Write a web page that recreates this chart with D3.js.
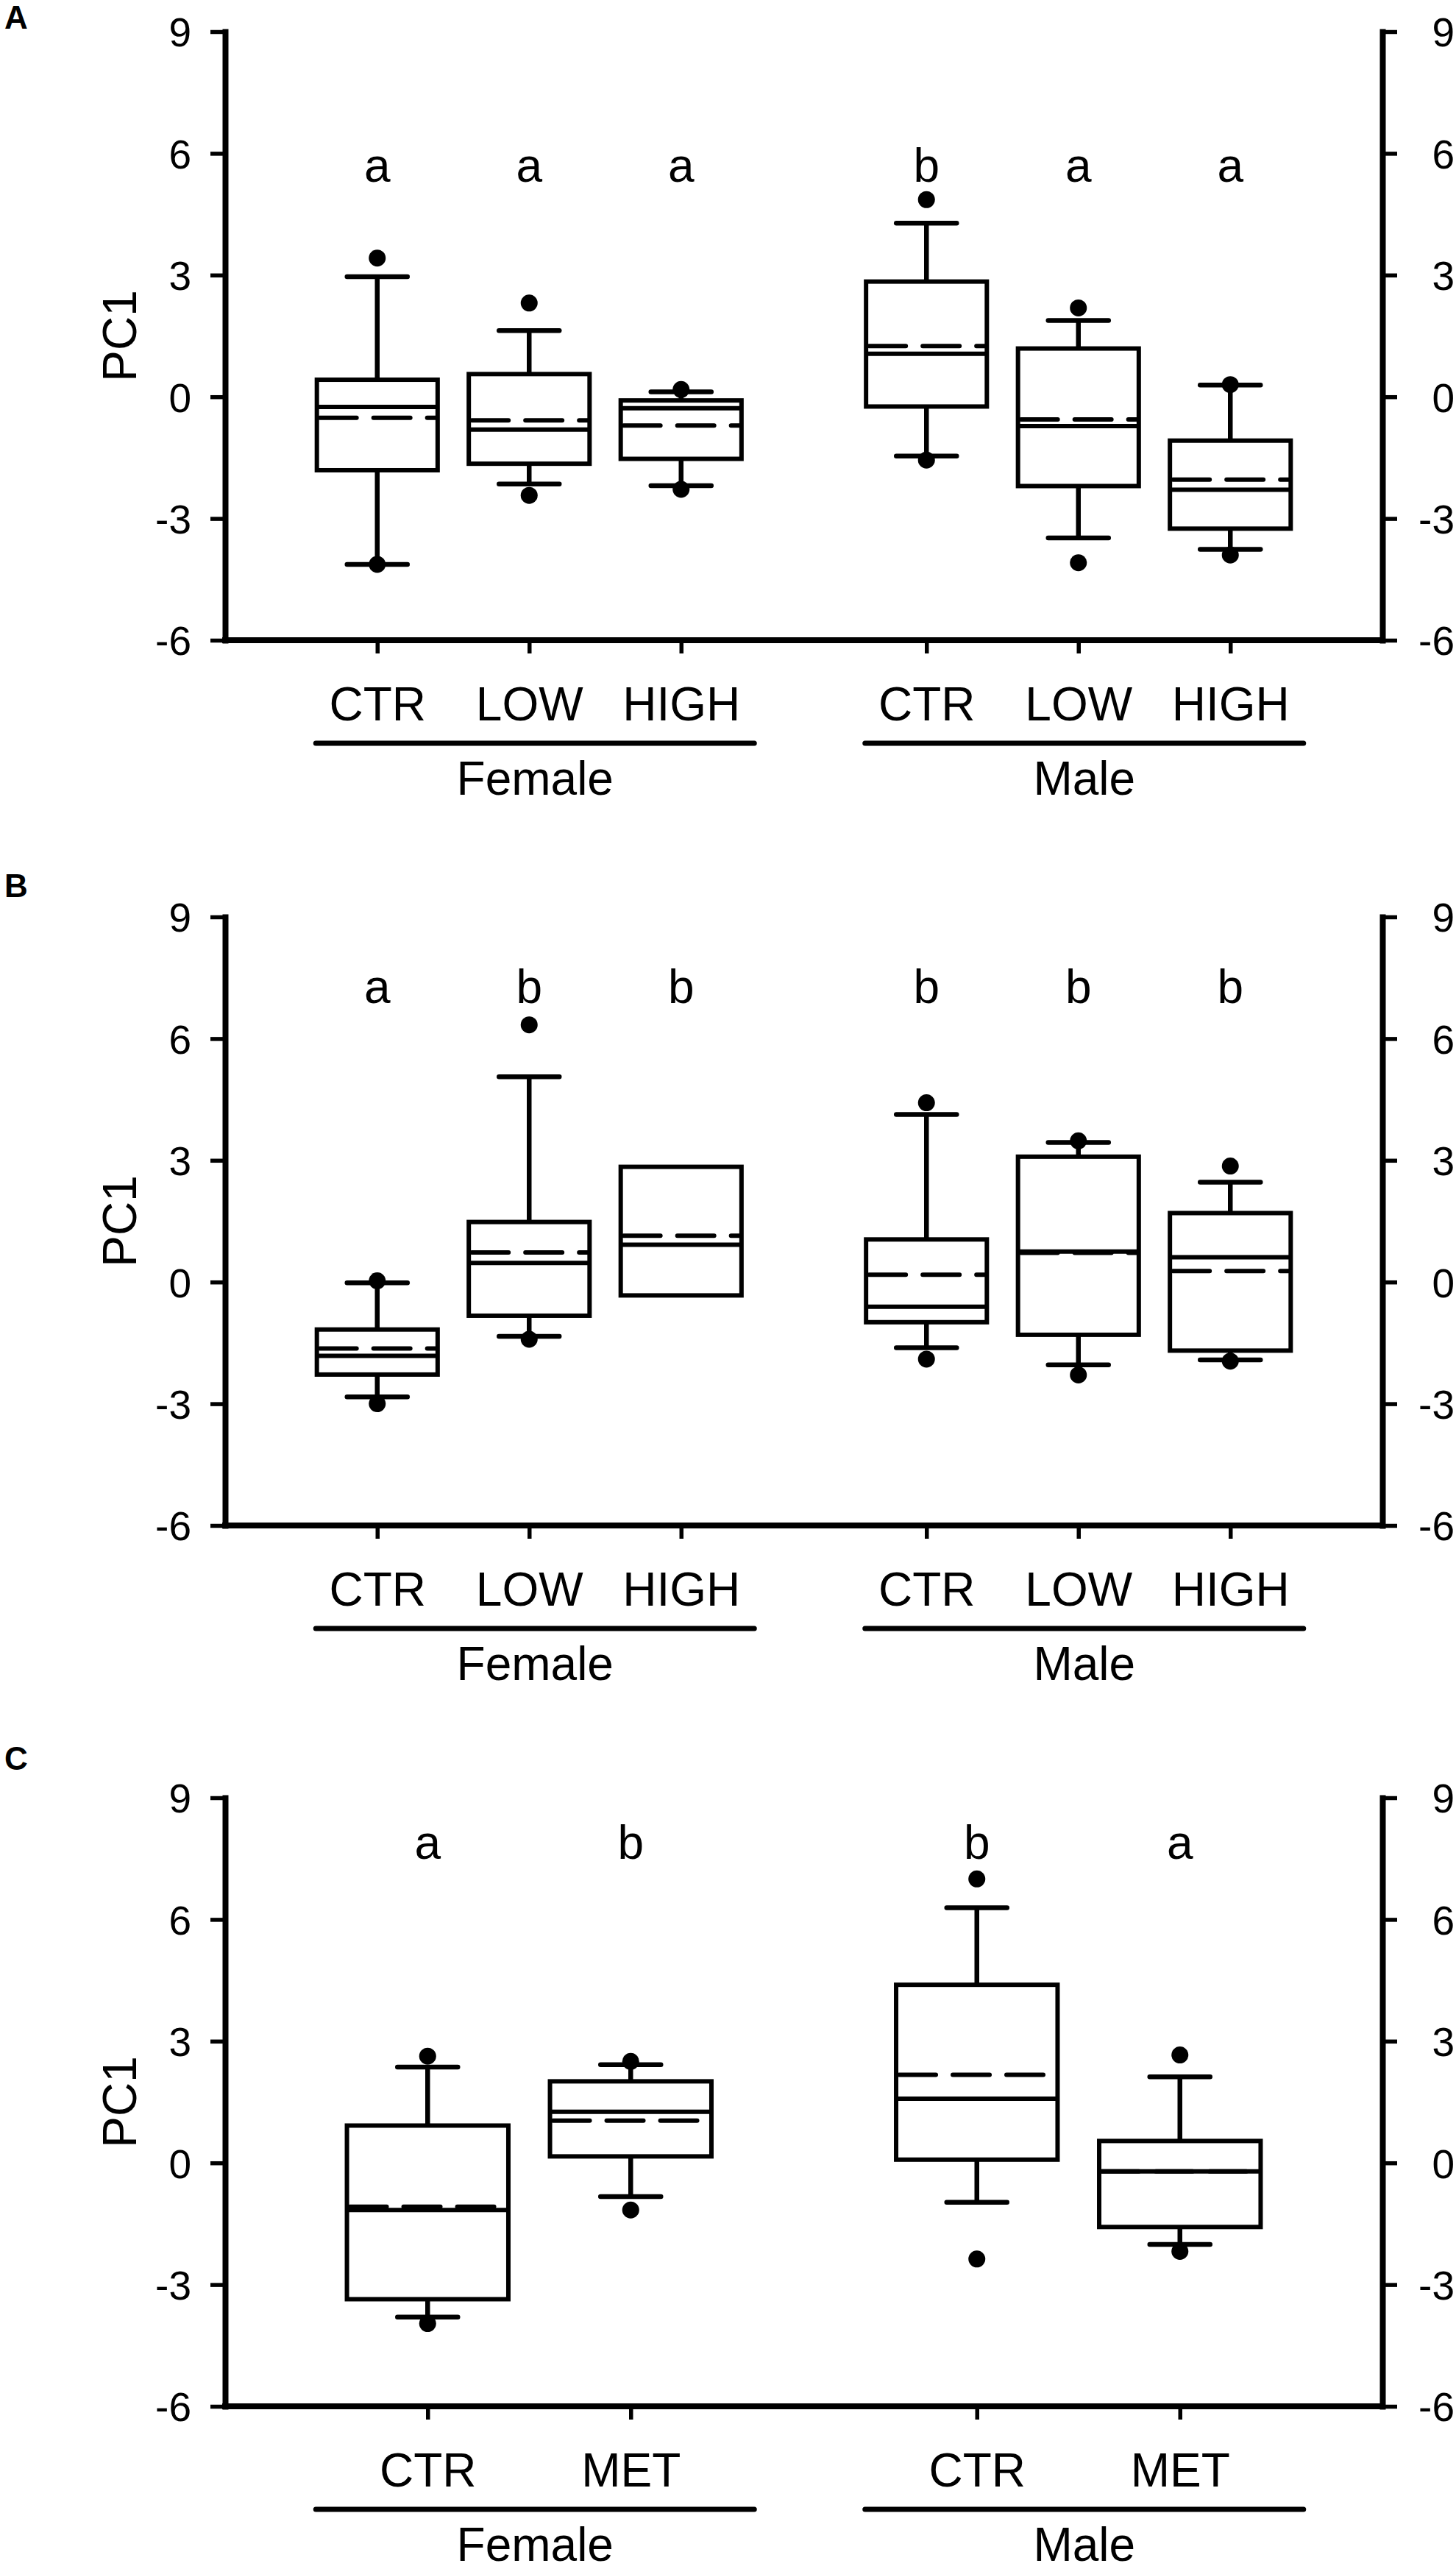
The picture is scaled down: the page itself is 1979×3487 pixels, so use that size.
<!DOCTYPE html>
<html><head><meta charset="utf-8">
<script src="https://cdn.jsdelivr.net/npm/d3@7"></script>
<style>
html,body{margin:0;padding:0;background:#fff;}
svg{display:block;background:#fff;}
text{font-family:"Liberation Sans", Arial, Helvetica, sans-serif;fill:#000;}
</style></head><body>
<svg id="chart" width="1979" height="3487"></svg>
<script>
// ---------------- DATA ----------------
const groups = ["Female", "Male"];
const treatmentsAB = ["CTR", "LOW", "HIGH"];
const treatmentsC = ["CTR", "MET"];
const yTickValues = [-6, -3, 0, 3, 6, 9];
const yDomain = [-6, 9];
const yTitle = "PC1";
const panelLabels = ["A", "B", "C"];

// Panel A order: Female CTR, LOW, HIGH, Male CTR, LOW, HIGH
const aLowDot      = [-4.13, -2.43, -2.28, -1.56, -4.09, -3.90];
const aLowWhisker  = [-4.13, -2.15, -2.19, -1.46, -3.48, -3.76];
const aQ1          = [-1.81, -1.65, -1.53, -0.24, -2.20, -3.25];
const aMedian      = [-0.25, -0.81, -0.28, 1.06, -0.72, -2.29];
const aMean        = [-0.52, -0.58, -0.71, 1.25, -0.56, -2.04];
const aQ3          = [0.42, 0.56, -0.09, 2.84, 1.19, -1.08];
const aHighWhisker = [2.96, 1.63, 0.12, 4.28, 1.88, 0.29];
const aHighDot     = [3.42, 2.31, 0.18, 4.86, 2.19, 0.30];
const aLetters     = ["a", "a", "a", "b", "a", "a"];

// Panel B order: Female CTR, LOW, HIGH, Male CTR, LOW, HIGH
const bLowDot      = [-3.00, -1.41, null, -1.90, -2.29, -1.95];
const bLowWhisker  = [-2.83, -1.34, null, -1.62, -2.04, -1.92];
const bQ1          = [-2.28, -0.83, -0.33, -0.99, -1.30, -1.69];
const bMedian      = [-1.82, 0.47, 0.92, -0.61, 0.75, 0.61];
const bMean        = [-1.64, 0.73, 1.14, 0.18, 0.72, 0.27];
const bQ3          = [-1.17, 1.48, 2.84, 1.05, 3.09, 1.70];
const bHighWhisker = [-0.02, 5.06, null, 4.13, 3.44, 2.46];
const bHighDot     = [0.03, 6.34, null, 4.42, 3.48, 2.86];
const bLetters     = ["a", "b", "b", "b", "b", "b"];

// Panel C order: Female CTR, MET, Male CTR, MET
const cLowDot      = [-3.96, -1.16, -2.37, -2.18];
const cLowWhisker  = [-3.80, -0.83, -0.97, -2.01];
const cQ1          = [-3.36, 0.16, 0.08, -1.58];
const cMedian      = [-1.16, 1.26, 1.58, -0.21];
const cMean        = [-1.08, 1.04, 2.17, -0.21];
const cQ3          = [0.92, 2.01, 4.39, 0.54];
const cHighWhisker = [2.36, 2.42, 6.29, 2.12];
const cHighDot     = [2.63, 2.50, 7.00, 2.66];
const cLetters     = ["a", "b", "b", "a"];

const panels = [
  {treatments: treatmentsAB, lowDot: aLowDot, lowW: aLowWhisker, q1: aQ1, med: aMedian, mean: aMean, q3: aQ3, highW: aHighWhisker, highDot: aHighDot, letters: aLetters},
  {treatments: treatmentsAB, lowDot: bLowDot, lowW: bLowWhisker, q1: bQ1, med: bMedian, mean: bMean, q3: bQ3, highW: bHighWhisker, highDot: bHighDot, letters: bLetters},
  {treatments: treatmentsC,  lowDot: cLowDot, lowW: cLowWhisker, q1: cQ1, med: cMedian, mean: cMean, q3: cQ3, highW: cHighWhisker, highDot: cHighDot, letters: cLetters}
];

// ---------------- LAYOUT ----------------
const X0 = 306, X1 = 1879, PH = 827;
const layout = [
  {top: 43,   labelBase: 39,   step: 206.5, letterAt: 5.3},
  {top: 1246, labelBase: 1219, step: 206.5, letterAt: 6.88},
  {top: 2443, labelBase: 2405, step: 276,   letterAt: 7.5}
];
const AXW = 8, BOXW = 6, WHW = 6.5, TICKW = 5.5;

const svg = d3.select("#chart");
svg.append("rect").attr("width", 1979).attr("height", 3487).attr("fill", "#fff");

panels.forEach((p, pi) => {
  const L = layout[pi];
  const g = svg.append("g");
  const y = d3.scaleLinear().domain(yDomain).range([L.top + PH, L.top]);
  const gx = d3.scalePoint().domain(groups).range([X0, X1]).padding(0.5536);
  const n = p.treatments.length;
  const inner = d3.scalePoint().domain(p.treatments).range([-(n - 1) * L.step / 2, (n - 1) * L.step / 2]);
  const rows = [];
  groups.forEach((gr, gi) => p.treatments.forEach((t, ti) => {
    const i = gi * n + ti;
    rows.push({key: gr + "|" + t, group: gr, treat: t,
      lowDot: p.lowDot[i], lowW: p.lowW[i], q1: p.q1[i], med: p.med[i], mean: p.mean[i],
      q3: p.q3[i], highW: p.highW[i], highDot: p.highDot[i], letter: p.letters[i]});
  }));
  const xPos = d => gx(d.group) + inner(d.treat);
  const bw = L.step * 0.795;
  const capHalf = 41;

  // Boxes
  const box = g.selectAll("g.box").data(rows).join("g").attr("class", "box");
  box.append("rect")
    .attr("x", d => xPos(d) - bw / 2).attr("y", d => y(d.q3))
    .attr("width", bw).attr("height", d => y(d.q1) - y(d.q3))
    .attr("fill", "none").attr("stroke", "#000").attr("stroke-width", BOXW);
  box.append("line")
    .attr("x1", d => xPos(d) - bw / 2).attr("x2", d => xPos(d) + bw / 2)
    .attr("y1", d => y(d.med)).attr("y2", d => y(d.med))
    .attr("stroke", "#000").attr("stroke-width", BOXW);
  box.append("line")
    .attr("x1", d => xPos(d) - bw / 2 + 4).attr("x2", d => xPos(d) + bw / 2 - 3)
    .attr("y1", d => y(d.mean)).attr("y2", d => y(d.mean))
    .attr("stroke", "#000").attr("stroke-width", BOXW)
    .attr("stroke-dasharray", "50,23").attr("stroke-linecap", "round");

  // Whiskers
  const hi = rows.filter(d => d.highW != null);
  g.selectAll("line.wh").data(hi).join("line").attr("class", "wh")
    .attr("x1", xPos).attr("x2", xPos).attr("y1", d => y(d.q3)).attr("y2", d => y(d.highW))
    .attr("stroke", "#000").attr("stroke-width", WHW);
  g.selectAll("line.ch").data(hi).join("line").attr("class", "ch")
    .attr("x1", d => xPos(d) - capHalf).attr("x2", d => xPos(d) + capHalf)
    .attr("y1", d => y(d.highW)).attr("y2", d => y(d.highW))
    .attr("stroke", "#000").attr("stroke-width", WHW).attr("stroke-linecap", "round");
  const lo = rows.filter(d => d.lowW != null);
  g.selectAll("line.wl").data(lo).join("line").attr("class", "wl")
    .attr("x1", xPos).attr("x2", xPos).attr("y1", d => y(d.q1)).attr("y2", d => y(d.lowW))
    .attr("stroke", "#000").attr("stroke-width", WHW);
  g.selectAll("line.cl").data(lo).join("line").attr("class", "cl")
    .attr("x1", d => xPos(d) - capHalf).attr("x2", d => xPos(d) + capHalf)
    .attr("y1", d => y(d.lowW)).attr("y2", d => y(d.lowW))
    .attr("stroke", "#000").attr("stroke-width", WHW).attr("stroke-linecap", "round");

  // Outlier dots
  const dots = [];
  rows.forEach(d => { if (d.highDot != null) dots.push({d, v: d.highDot}); if (d.lowDot != null) dots.push({d, v: d.lowDot}); });
  g.selectAll("circle.dot").data(dots).join("circle").attr("class", "dot")
    .attr("cx", o => xPos(o.d)).attr("cy", o => y(o.v)).attr("r", 11.5).attr("fill", "#000");

  // Significance letters
  g.selectAll("text.sig").data(rows).join("text").attr("class", "sig")
    .attr("x", xPos).attr("y", y(L.letterAt))
    .attr("text-anchor", "middle").attr("font-size", "64px").text(d => d.letter);

  // Left / right axes
  const fmt = v => String(v);
  const la = g.append("g").attr("transform", `translate(${X0},0)`)
    .call(d3.axisLeft(y).tickValues(yTickValues).tickSize(20).tickSizeOuter(0).tickPadding(26).tickFormat(fmt));
  const ra = g.append("g").attr("transform", `translate(${X1},0)`)
    .call(d3.axisRight(y).tickValues(yTickValues).tickSize(20).tickSizeOuter(0).tickPadding(26).tickFormat(fmt));
  [la, ra].forEach(a => {
    a.attr("font-family", null).attr("font-size", null);
    a.select(".domain").attr("stroke", "#000").attr("stroke-width", AXW).attr("stroke-linecap", "square");
    a.selectAll(".tick line").attr("stroke", "#000").attr("stroke-width", TICKW);
    a.selectAll(".tick text").attr("font-size", "55px").attr("dy", "0.36em").attr("fill", "#000");
  });
  ra.selectAll(".tick text").attr("text-anchor", "end").attr("x", 98);

  // Bottom axis
  const xOrd = d3.scaleOrdinal().domain(rows.map(d => d.key)).range(rows.map(xPos));
  g.append("line").attr("x1", X0).attr("x2", X1).attr("y1", L.top + PH).attr("y2", L.top + PH)
    .attr("stroke", "#000").attr("stroke-width", AXW).attr("stroke-linecap", "square");
  const ba = g.append("g").attr("transform", `translate(0,${L.top + PH})`)
    .call(d3.axisBottom(xOrd).tickSize(18).tickPadding(45.6).tickFormat(k => k.split("|")[1]));
  ba.attr("font-family", null).attr("font-size", null);
  ba.select(".domain").remove();
  ba.selectAll(".tick line").attr("stroke", "#000").attr("stroke-width", TICKW);
  ba.selectAll(".tick text").attr("font-size", "64px").attr("fill", "#000");

  // Group underline and labels
  groups.forEach(gr => {
    const a = gx(gr) - 290, b = gx(gr) + 306;
    g.append("line").attr("x1", a).attr("x2", b).attr("y1", L.top + 967).attr("y2", L.top + 967)
      .attr("stroke", "#000").attr("stroke-width", 7).attr("stroke-linecap", "round");
    g.append("text").attr("x", (a + b) / 2).attr("y", L.top + 1037)
      .attr("text-anchor", "middle").attr("font-size", "64px").text(gr);
  });

  // Y title
  g.append("text").attr("transform", `translate(185,${L.top + PH / 2}) rotate(-90)`)
    .attr("text-anchor", "middle").attr("font-size", "64px").text(yTitle);

  // Panel label
  g.append("text").attr("x", 6).attr("y", L.labelBase)
    .attr("font-size", "44px").attr("font-weight", "bold").text(panelLabels[pi]);
});
</script>
</body></html>
